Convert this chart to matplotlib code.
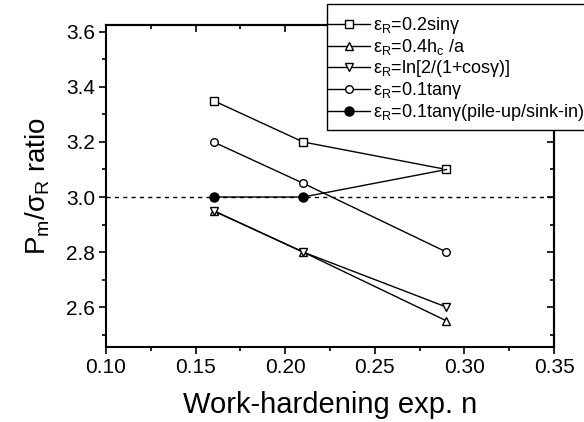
import numpy as np
import matplotlib
matplotlib.use("Agg")
from matplotlib import pyplot as plt
from matplotlib.ticker import MultipleLocator, FormatStrFormatter
from matplotlib.patches import Rectangle

plt.rcParams['font.family'] = ['Liberation Sans', 'DejaVu Sans']
plt.rcParams['mathtext.fontset'] = 'custom'
plt.rcParams['mathtext.rm'] = 'Liberation Sans'
plt.rcParams['mathtext.it'] = 'Liberation Sans'

# data
n_exp = [0.16, 0.21, 0.29]
sin_vals = [3.35, 3.20, 3.10]
hc_vals = [2.95, 2.80, 2.55]
ln_vals = [2.95, 2.80, 2.60]
tan_vals = [3.20, 3.05, 2.80]
pile_vals = [3.00, 3.00, 3.10]
ref_line = 3.0

labels = [r"$\mathregular{\epsilon_R}$=0.2sin$\mathregular{\gamma}$",
          r"$\mathregular{\epsilon_R}$=0.4h$\mathregular{_c}$ /a",
          r"$\mathregular{\epsilon_R}$=ln[2/(1+cos$\mathregular{\gamma}$)]",
          r"$\mathregular{\epsilon_R}$=0.1tan$\mathregular{\gamma}$",
          r"$\mathregular{\epsilon_R}$=0.1tan$\mathregular{\gamma}$(pile-up/sink-in)"]

fig = plt.figure(figsize=(5.84, 4.22), dpi=100)
ax = fig.add_axes([106/584, 1-347/422, (554-106)/584, (347-25)/422])

ax.axhline(ref_line, color='k', ls=(0, (3, 3)), lw=1)

kw = dict(color='k', lw=1, ms=5.5, mfc='white', mew=1)
ax.plot(n_exp, sin_vals, marker='s', label=labels[0], **kw)
ax.plot(n_exp, hc_vals, marker='^', label=labels[1], **kw)
ax.plot(n_exp, ln_vals, marker='v', label=labels[2], **kw)
ax.plot(n_exp, tan_vals, marker='o', label=labels[3], **kw)
ax.plot(n_exp, pile_vals, color='k', lw=1, marker='o', ms=6.5, mfc='k',
        markevery=[0, 1], label=labels[4])

ax.set_xlim(0.10, 0.35)
ax.set_ylim(2.455, 3.625)
ax.xaxis.set_major_locator(MultipleLocator(0.05))
ax.xaxis.set_minor_locator(MultipleLocator(0.025))
ax.yaxis.set_major_locator(MultipleLocator(0.2))
ax.yaxis.set_minor_locator(MultipleLocator(0.1))
ax.xaxis.set_major_formatter(FormatStrFormatter('%.2f'))
ax.yaxis.set_major_formatter(FormatStrFormatter('%.1f'))

ax.tick_params(which='both', direction='out', top=False, right=False, labelsize=15, width=1.2, pad=3)
ax.tick_params(which='major', length=5)
ax.tick_params(which='minor', length=3)
for sp in ax.spines.values():
    sp.set_linewidth(1.5)

# inward ticks on top and right
sec_x = ax.secondary_xaxis('top')
sec_x.xaxis.set_major_locator(MultipleLocator(0.05))
sec_x.xaxis.set_minor_locator(MultipleLocator(0.025))
sec_x.tick_params(which='both', direction='in', labeltop=False, width=1.2)
sec_x.tick_params(which='major', length=5)
sec_x.tick_params(which='minor', length=3)
sec_y = ax.secondary_yaxis('right')
sec_y.yaxis.set_major_locator(MultipleLocator(0.2))
sec_y.yaxis.set_minor_locator(MultipleLocator(0.1))
sec_y.tick_params(which='both', direction='in', labelright=False, width=1.2)
sec_y.tick_params(which='major', length=5)
sec_y.tick_params(which='minor', length=3)
sec_x.spines['top'].set_linewidth(1.5)
sec_y.spines['right'].set_linewidth(1.5)

ax.set_xlabel("Work-hardening exp. n", fontsize=21, labelpad=10)
ax.set_ylabel(r"P$\mathregular{_m}$/$\mathregular{\sigma_R}$ ratio", fontsize=20, labelpad=10)

# legend box runs past the right edge of the figure
frame = Rectangle((327/584, 1-130/422), 300/584, 126/422, transform=fig.transFigure,
                  fill=True, facecolor='white', edgecolor='k', lw=1, zorder=5)
fig.patches.append(frame)
leg = fig.legend(loc='upper left', bbox_to_anchor=(328/584, 1-15/422), fontsize=13,
                 frameon=False, handlelength=2.3, handletextpad=0.2, borderpad=0,
                 labelspacing=0.06, borderaxespad=0)
leg.set_zorder(6)

fig.savefig("out.png", dpi=100)
